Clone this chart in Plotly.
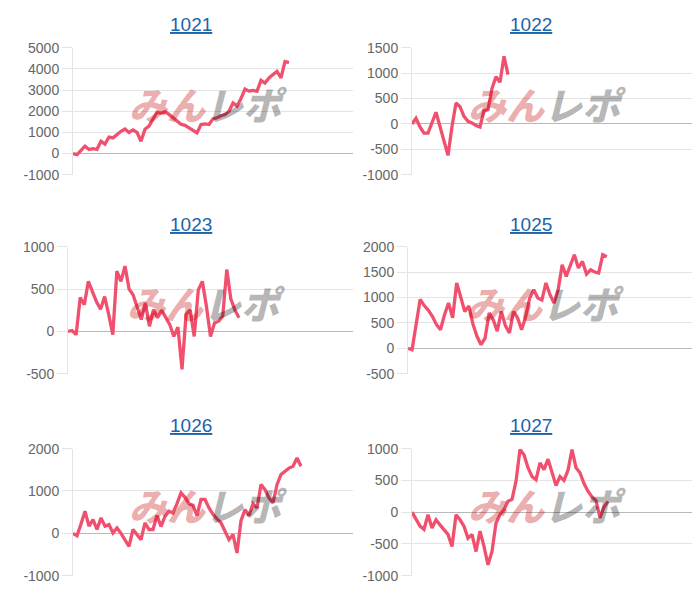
import plotly.graph_objects as go

# ---- data ----
titles = ["1021", "1022", "1023", "1025", "1026", "1027"]

s1021 = [0, -50, 150, 350, 190, 230, 200, 580, 450, 780, 740, 900, 1050, 1160, 1000,
         1120, 1000, 580, 1150, 1300, 1600, 1950, 1900, 1980, 1850, 1700, 1520, 1380,
         1330, 1200, 1100, 975, 1370, 1400, 1370, 1640, 1690, 1790, 1840, 2000, 2390,
         2250, 2600, 3050, 2950, 2980, 2940, 3460, 3330, 3570, 3730, 3880, 3570, 4350, 4300]

s1022 = [0, 110, -60, -180, -180, 20, 230, -50, -310, -620, -50, 410, 340, 150, 50, 20,
         -30, -60, 260, 280, 700, 930, 820, 1330, 970]

s1023 = [0, 10, -40, 400, 315, 590, 470, 350, 260, 410, 200, -40, 710, 590, 770, 500,
         430, 280, 140, 335, 60, 255, 160, 250, 170, 80, -60, 50, -450, 200, 255, -60,
         490, 590, 295, -60, 100, 120, 180, 730, 380, 250, 160]

s1025 = [0, -30, 470, 960, 840, 750, 630, 470, 365, 660, 890, 600, 1285, 1020, 725, 830,
         480, 235, 70, 200, 695, 560, 335, 725, 445, 300, 725, 600, 365, 620, 990, 1150,
         990, 950, 1285, 1055, 890, 1150, 1645, 1415, 1650, 1840, 1580, 1710, 1460, 1545,
         1500, 1480, 1840, 1800]

s1026 = [0, -60, 220, 520, 170, 325, 90, 365, 170, 205, 10, 125, 0, -150, -310, 90, -40,
         -150, 245, 90, 90, 420, 160, 400, 520, 480, 700, 955, 850, 700, 660, 420, 800,
         800, 600, 450, 340, 250, 50, -150, -30, -465, 300, 560, 420, 700, 600, 1150,
         1030, 835, 720, 1150, 1390, 1465, 1540, 1585, 1780, 1585]

s1027 = [0, -110, -220, -270, -40, -250, -120, -200, -280, -350, -540, -40, -120, -220,
         -410, -350, -620, -300, -540, -830, -620, -170, -40, 40, 170, 200, 485, 985, 905,
         700, 560, 510, 775, 670, 835, 640, 420, 560, 500, 660, 985, 700, 620, 450, 330,
         240, 180, -90, 80, 170]

series = [s1021, s1022, s1023, s1025, s1026, s1027]

ticks1021 = [-1000, 0, 1000, 2000, 3000, 4000, 5000]
ticks1022 = [-1000, -500, 0, 500, 1000, 1500]
ticks1023 = [-500, 0, 500, 1000]
ticks1025 = [-500, 0, 500, 1000, 1500, 2000]
ticks1026 = [-1000, 0, 1000, 2000]
ticks1027 = [-1000, -500, 0, 500, 1000]
tick_sets = [ticks1021, ticks1022, ticks1023, ticks1025, ticks1026, ticks1027]

X_SLOTS = 70

# ---- layout / style ----
W, H = 700, 600
# panel boxes in layout pixels (left, right, top, bottom)
boxes = [(73, 353, 40.8, 171.3), (412, 692, 40.8, 171.3),
         (68, 353, 245.2, 375.7), (408, 692, 245.2, 375.7),
         (73, 353, 452.7, 583.2), (412, 692, 452.7, 583.2)]
title_pos = [(191, 17.2), (531, 17.2), (191, 222.6), (531, 222.6), (191, 429.1), (531, 429.1)]

LINE = "#f0506e"
GRID = "#e4e4e4"
ZERO = "#b8b8b8"
TICKFONT = dict(family="Liberation Sans, Arial, sans-serif", size=14, color="#666666")
TITLECOLOR = "#1d63a8"

fig = go.Figure()
layout = dict(
    width=W, height=H, margin=dict(l=0, r=0, t=0, b=0),
    paper_bgcolor="white", plot_bgcolor="white", showlegend=False,
)
annotations = []

for k, (name, vals, tv) in enumerate(zip(titles, series, tick_sets)):
    ax = "" if k == 0 else str(k + 1)
    fig.add_trace(go.Scatter(
        x=list(range(len(vals))), y=vals, mode="lines",
        line=dict(color=LINE, width=3.3),
        xaxis="x" + ax, yaxis="y" + ax, hoverinfo="skip", showlegend=False,
    ))
    x0, x1, y0, y1 = boxes[k]
    layout["xaxis" + ax] = dict(
        domain=[x0 / W, x1 / W], range=[0, X_SLOTS], anchor="y" + ax,
        showgrid=False, zeroline=False, showticklabels=False, showline=False,
        ticks="", fixedrange=True,
    )
    layout["yaxis" + ax] = dict(
        domain=[1 - y1 / H, 1 - y0 / H], range=[tv[0], tv[-1]], anchor="x" + ax,
        tickmode="array", tickvals=tv, ticktext=[str(v) for v in tv],
        showgrid=True, gridcolor=GRID, gridwidth=1,
        zeroline=True, zerolinecolor=ZERO, zerolinewidth=1,
        showline=True, linecolor=GRID, linewidth=1,
        ticks="outside", ticklen=10, tickcolor=GRID, tickwidth=1,
        tickfont=TICKFONT, fixedrange=True,
    )
    # title
    tx, ty = title_pos[k]
    annotations.append(dict(
        text="<u>" + name + "</u>", xref="paper", yref="paper",
        x=tx / W, y=1 - ty / H, xanchor="center", yanchor="middle",
        showarrow=False,
        font=dict(family="Liberation Sans, Arial, sans-serif", size=19, color=TITLECOLOR),
    ))
    # watermark
    annotations.append(dict(
        text=("<b><i><span style='color:rgba(195,0,0,0.33)'>みん</span>"
              "<span style='color:rgba(0,0,0,0.30)'>レポ</span></i></b>"),
        xref="x" + ax + " domain", yref="y" + ax + " domain",
        x=0.485, y=0.56, xanchor="center", yanchor="middle", showarrow=False,
        font=dict(family="Noto Sans CJK JP Black, Noto Sans CJK JP", size=38, weight=900),
    ))

layout["annotations"] = annotations
fig.update_layout(**layout)
fig.write_html("out.html")
